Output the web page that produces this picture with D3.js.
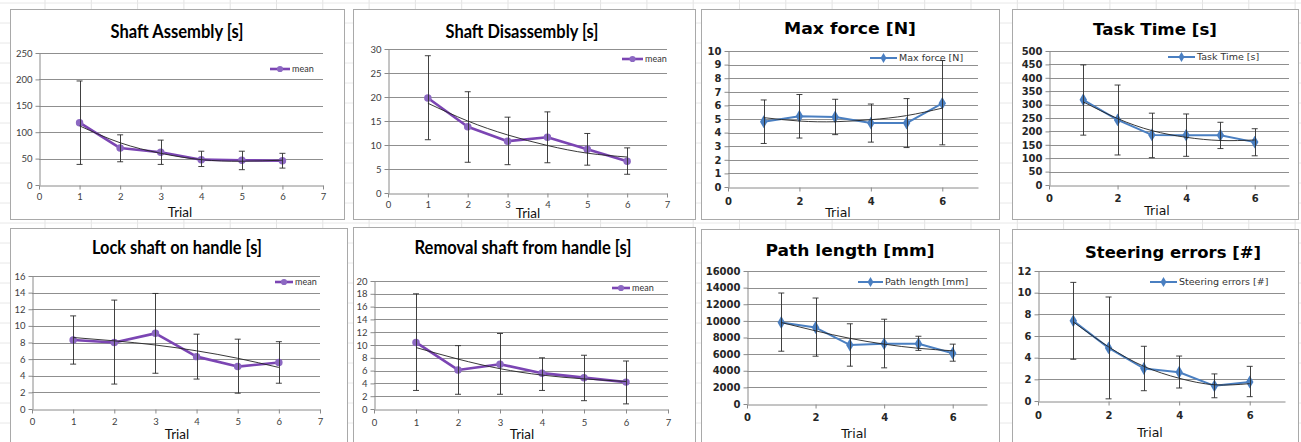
<!DOCTYPE html>
<html>
<head>
<meta charset="utf-8">
<script src="https://cdn.jsdelivr.net/npm/d3@7"></script>
<style>
  html, body { margin: 0; padding: 0; background: #fff; overflow: hidden; }
  svg { display: block; }
</style>
</head>
<body>
<svg id="chart" width="1301" height="442"></svg>
<script>
// trials on the x axis
const trials = [1, 2, 3, 4, 5, 6];

// Shaft Assembly [s]
const shaftAssemblyMean  = [118, 70, 62, 48, 47, 46];
const shaftAssemblyLow   = [39, 44, 39, 35, 29, 32];
const shaftAssemblyHigh  = [197, 95, 85, 64, 64, 60];
const shaftAssemblyTrend = [112, 80, 60, 48, 45, 47];

// Shaft Disassembly [s]
const shaftDisMean  = [19.8, 13.8, 10.8, 11.6, 9.1, 6.6];
const shaftDisLow   = [11.1, 6.4, 5.9, 6.3, 5.8, 3.9];
const shaftDisHigh  = [28.6, 21.1, 15.8, 16.9, 12.4, 9.4];
const shaftDisTrend = [18.7, 15.0, 12.1, 9.9, 8.3, 7.5];

// Max force [N]
const maxForceMean  = [4.8, 5.2, 5.15, 4.7, 4.7, 6.15];
const maxForceLow   = [3.2, 3.6, 3.85, 3.3, 2.9, 3.1];
const maxForceHigh  = [6.4, 6.8, 6.45, 6.1, 6.5, 9.3];
const maxForceTrend = [5.1, 4.85, 4.8, 4.95, 5.25, 5.8];

// Task Time [s]
const taskTimeMean  = [318, 243, 187, 186, 186, 160];
const taskTimeLow   = [186, 112, 102, 107, 136, 109];
const taskTimeHigh  = [448, 373, 268, 265, 234, 210];
const taskTimeTrend = [310, 248, 203, 178, 166, 168];

// Lock shaft on handle [s]
const lockMean  = [8.3, 8.0, 9.1, 6.3, 5.1, 5.6];
const lockLow   = [5.4, 3.0, 4.3, 3.6, 1.9, 3.1];
const lockHigh  = [11.2, 13.1, 13.9, 9.0, 8.4, 8.1];
const lockTrend = [8.6, 8.2, 7.7, 7.0, 6.1, 5.0];

// Removal shaft from handle [s]
const removalMean  = [10.4, 6.1, 7.0, 5.6, 4.9, 4.2];
const removalLow   = [2.9, 2.3, 2.3, 2.9, 1.3, 0.8];
const removalHigh  = [18.0, 9.9, 11.8, 8.0, 8.4, 7.5];
const removalTrend = [9.6, 7.8, 6.3, 5.3, 4.7, 4.3];

// Path length [mm]
const pathMean  = [9800, 9200, 7100, 7250, 7250, 6100];
const pathLow   = [6350, 5750, 4550, 4350, 6450, 5150];
const pathHigh  = [13350, 12750, 9650, 10200, 8150, 7200];
const pathTrend = [9800, 8800, 7900, 7200, 6700, 6400];

// Steering errors [#]
const steerMean  = [7.4, 4.9, 3.0, 2.65, 1.4, 1.75];
const steerLow   = [3.85, 0.2, 0.95, 1.2, 0.3, 0.4];
const steerHigh  = [10.95, 9.6, 5.05, 4.15, 2.5, 3.2];
const steerTrend = [7.3, 5.0, 3.2, 2.1, 1.5, 1.6];

const PURPLE = "#7b45b3";
const PURPLE_MK = "#8c68c2";
const BLUE = "#4a7fc1";

// two looks: the "mean" charts (Calibri-like) and the blue ones (Verdana-like)
const styleA = { font: "Lato, 'Open Sans', sans-serif", titleSize: 18.5, tick: 9.5, legend: 9, trial: 13.5,
                 color: PURPLE, marker: "circle", lineW: 2.6 };
const styleB = { font: "'DejaVu Sans', Verdana, sans-serif", titleSize: 15.5, tick: 10, legend: 9.5, trial: 12.5,
                 color: BLUE, marker: "diamond", lineW: 2 };

const panels = [
  { title: "Shaft Assembly [s]", titleW: 133, legend: "mean", st: styleA,
    mean: shaftAssemblyMean, low: shaftAssemblyLow, high: shaftAssemblyHigh, trend: shaftAssemblyTrend,
    yMax: 250, yStep: 50, xStep: 1,
    frame: [10, 9, 344, 219], x0: 39, x1: 323, yTop: 53, yBot: 185,
    titleXY: [177, 38], leg: [270, 290, 69], trialXY: [180, 217], xPad: 4 },
  { title: "Shaft Disassembly [s]", titleW: 153, legend: "mean", st: styleA,
    mean: shaftDisMean, low: shaftDisLow, high: shaftDisHigh, trend: shaftDisTrend,
    yMax: 30, yStep: 5, xStep: 1,
    frame: [353, 9, 695, 219], x0: 388, x1: 667, yTop: 49, yBot: 193,
    titleXY: [522, 38], leg: [622, 643, 59], trialXY: [528, 218], xPad: 4 },
  { title: "Max force [N]", titleW: 132, legend: "Max force [N]", st: styleB,
    mean: maxForceMean, low: maxForceLow, high: maxForceHigh, trend: maxForceTrend,
    yMax: 10, yStep: 1, xStep: 2,
    frame: [701, 9, 999, 219], x0: 728, x1: 978, yTop: 51, yBot: 187,
    titleXY: [850, 34], leg: [870, 897, 58], trialXY: [838, 217], xPad: 6 },
  { title: "Task Time [s]", titleW: 124, legend: "Task Time [s]", st: styleB,
    mean: taskTimeMean, low: taskTimeLow, high: taskTimeHigh, trend: taskTimeTrend,
    yMax: 500, yStep: 50, xStep: 2,
    frame: [1012, 9, 1298, 219], x0: 1049, x1: 1289, yTop: 51, yBot: 185,
    titleXY: [1155, 35], leg: [1168, 1195, 57], trialXY: [1157, 215], xPad: 5 },
  { title: "Lock shaft on handle [s]", titleW: 170, legend: "mean", st: styleA,
    mean: lockMean, low: lockLow, high: lockHigh, trend: lockTrend,
    yMax: 16, yStep: 2, xStep: 1,
    frame: [10, 228, 347, 470], x0: 32, x1: 320, yTop: 276, yBot: 409,
    titleXY: [177, 254], leg: [275, 293, 282], trialXY: [177, 439], xPad: 5 },
  { title: "Removal shaft from handle [s]", titleW: 217, legend: "mean", st: styleA,
    mean: removalMean, low: removalLow, high: removalHigh, trend: removalTrend,
    yMax: 20, yStep: 2, xStep: 1,
    frame: [353, 227, 695, 470], x0: 374, x1: 668, yTop: 281, yBot: 409,
    titleXY: [523, 254], leg: [612, 630, 288], trialXY: [522, 439], xPad: 6 },
  { title: "Path length [mm]", titleW: 169, legend: "Path length [mm]", st: styleB,
    mean: pathMean, low: pathLow, high: pathHigh, trend: pathTrend,
    yMax: 16000, yStep: 2000, xStep: 2,
    frame: [701, 229, 999, 470], x0: 747, x1: 987, yTop: 271, yBot: 404,
    titleXY: [850, 256], leg: [858, 883, 282], trialXY: [854, 438], xPad: 5 },
  { title: "Steering errors [#]", titleW: 176, legend: "Steering errors [#]", st: styleB,
    mean: steerMean, low: steerLow, high: steerHigh, trend: steerTrend,
    yMax: 12, yStep: 2, xStep: 2,
    frame: [1012, 229, 1298, 470], x0: 1038, x1: 1285, yTop: 271, yBot: 401,
    titleXY: [1173, 258], leg: [1150, 1177, 282], trialXY: [1150, 437], xPad: 6 }
];

const svg = d3.select("#chart");

// faint spreadsheet cell grid behind the charts
const sheet = svg.append("g").attr("class", "sheet");
sheet.selectAll("line.col")
  .data(d3.range(45, 1301, 46.3))
  .join("line")
  .attr("x1", d => d).attr("x2", d => d)
  .attr("y1", 0).attr("y2", 442)
  .attr("stroke", "#e3e3e3");
sheet.selectAll("line.row")
  .data(d3.range(3, 442, 20))
  .join("line")
  .attr("x1", 0).attr("x2", 1301)
  .attr("y1", d => d).attr("y2", d => d)
  .attr("stroke", "#e8e8e8");

const diamond = d3.symbol().type(d3.symbolDiamond).size(48);
const dot = d3.symbol().type(d3.symbolCircle).size(44);
const legDiamond = d3.symbol().type(d3.symbolDiamond).size(30);
const legDot = d3.symbol().type(d3.symbolCircle).size(30);

function drawPanel(p) {
  const st = p.st;
  const g = svg.append("g").attr("font-family", st.font);
  const [fx0, fy0, fx1, fy1] = p.frame;

  g.append("rect")
    .attr("x", fx0 + 0.5).attr("y", fy0 + 0.5)
    .attr("width", fx1 - fx0).attr("height", fy1 - fy0)
    .attr("fill", "#fff")
    .attr("stroke", "#a9a9a9");

  const x = d3.scaleLinear().domain([0, 7]).range([p.x0, p.x1]);
  const y = d3.scaleLinear().domain([0, p.yMax]).range([p.yBot, p.yTop]);
  const yTicks = d3.range(0, p.yMax + p.yStep / 2, p.yStep);
  const xTicks = d3.range(0, 7 + 0.01, p.xStep);

  // horizontal gridlines
  g.append("g")
    .selectAll("line")
    .data(yTicks.filter(v => v > 0))
    .join("line")
    .attr("x1", p.x0).attr("x2", p.x1)
    .attr("y1", d => Math.round(y(d)) + 0.5).attr("y2", d => Math.round(y(d)) + 0.5)
    .attr("stroke", "#8f8f8f");

  const yAxis = g.append("g")
    .attr("transform", `translate(${Math.round(p.x0) + 0.5},0)`)
    .call(d3.axisLeft(y).tickValues(yTicks).tickSize(4).tickSizeOuter(0).tickPadding(3)
      .tickFormat(d3.format("d")));
  const xAxis = g.append("g")
    .attr("transform", `translate(0,${Math.round(p.yBot) + 0.5})`)
    .call(d3.axisBottom(x).tickValues(xTicks).tickSize(4).tickSizeOuter(0).tickPadding(p.xPad)
      .tickFormat(d3.format("d")));
  [yAxis, xAxis].forEach(a => {
    a.select(".domain").attr("stroke", "#8a8a8a");
    a.selectAll(".tick line").attr("stroke", "#8a8a8a");
    a.selectAll(".tick text")
      .attr("fill", st === styleA ? "#404040" : "#262626")
      .attr("font-size", st.tick)
      .attr("font-family", st.font)
      .attr("font-weight", st === styleB ? "bold" : null);
  });

  const pts = trials.map((t, i) => ({ t, m: p.mean[i], lo: p.low[i], hi: p.high[i], tr: p.trend[i] }));

  // mean line
  g.append("path")
    .datum(pts)
    .attr("d", d3.line().x(d => x(d.t)).y(d => y(d.m)))
    .attr("fill", "none")
    .attr("stroke", st.color)
    .attr("stroke-width", st.lineW)
    .attr("stroke-linejoin", "round");

  g.append("g")
    .selectAll("path")
    .data(pts)
    .join("path")
    .attr("transform", d => `translate(${x(d.t)},${y(d.m)})`)
    .attr("d", st.marker === "circle" ? dot : diamond)
    .attr("fill", st.marker === "circle" ? PURPLE_MK : BLUE);

  // error bars
  const eb = g.append("g").attr("stroke", "#2b2b2b").attr("stroke-width", 0.9);
  eb.selectAll("line.v").data(pts).join("line")
    .attr("x1", d => Math.round(x(d.t)) + 0.5).attr("x2", d => Math.round(x(d.t)) + 0.5)
    .attr("y1", d => y(d.lo)).attr("y2", d => y(d.hi));
  eb.selectAll("line.hi").data(pts).join("line")
    .attr("x1", d => x(d.t) - 3).attr("x2", d => x(d.t) + 3)
    .attr("y1", d => y(d.hi)).attr("y2", d => y(d.hi));
  eb.selectAll("line.lo").data(pts).join("line")
    .attr("x1", d => x(d.t) - 3).attr("x2", d => x(d.t) + 3)
    .attr("y1", d => y(d.lo)).attr("y2", d => y(d.lo));

  // trendline
  g.append("path")
    .datum(pts)
    .attr("d", d3.line().curve(d3.curveNatural).x(d => x(d.t)).y(d => y(d.tr)))
    .attr("fill", "none")
    .attr("stroke", "#222")
    .attr("stroke-width", 0.9);

  // title
  g.append("text")
    .attr("x", p.titleXY[0]).attr("y", p.titleXY[1])
    .attr("text-anchor", "middle")
    .attr("font-weight", "bold")
    .attr("font-size", st.titleSize)
    .attr("fill", "#000")
    .attr("textLength", p.titleW)
    .attr("lengthAdjust", "spacingAndGlyphs")
    .text(p.title);

  // legend
  const [lx0, lx1, ly] = p.leg;
  g.append("line")
    .attr("x1", lx0).attr("x2", lx1).attr("y1", ly).attr("y2", ly)
    .attr("stroke", st.color).attr("stroke-width", st.lineW);
  g.append("path")
    .attr("transform", `translate(${(lx0 + lx1) / 2},${ly})`)
    .attr("d", st.marker === "circle" ? legDot : legDiamond)
    .attr("fill", st.marker === "circle" ? PURPLE_MK : BLUE);
  g.append("text")
    .attr("x", lx1 + 2).attr("y", ly)
    .attr("dy", "0.35em")
    .attr("font-size", st.legend)
    .attr("fill", "#333")
    .text(p.legend);

  // axis title
  g.append("text")
    .attr("x", p.trialXY[0]).attr("y", p.trialXY[1])
    .attr("text-anchor", "middle")
    .attr("font-size", st.trial)
    .attr("fill", "#111")
    .text("Trial");
}

panels.forEach(drawPanel);
</script>
</body>
</html>
